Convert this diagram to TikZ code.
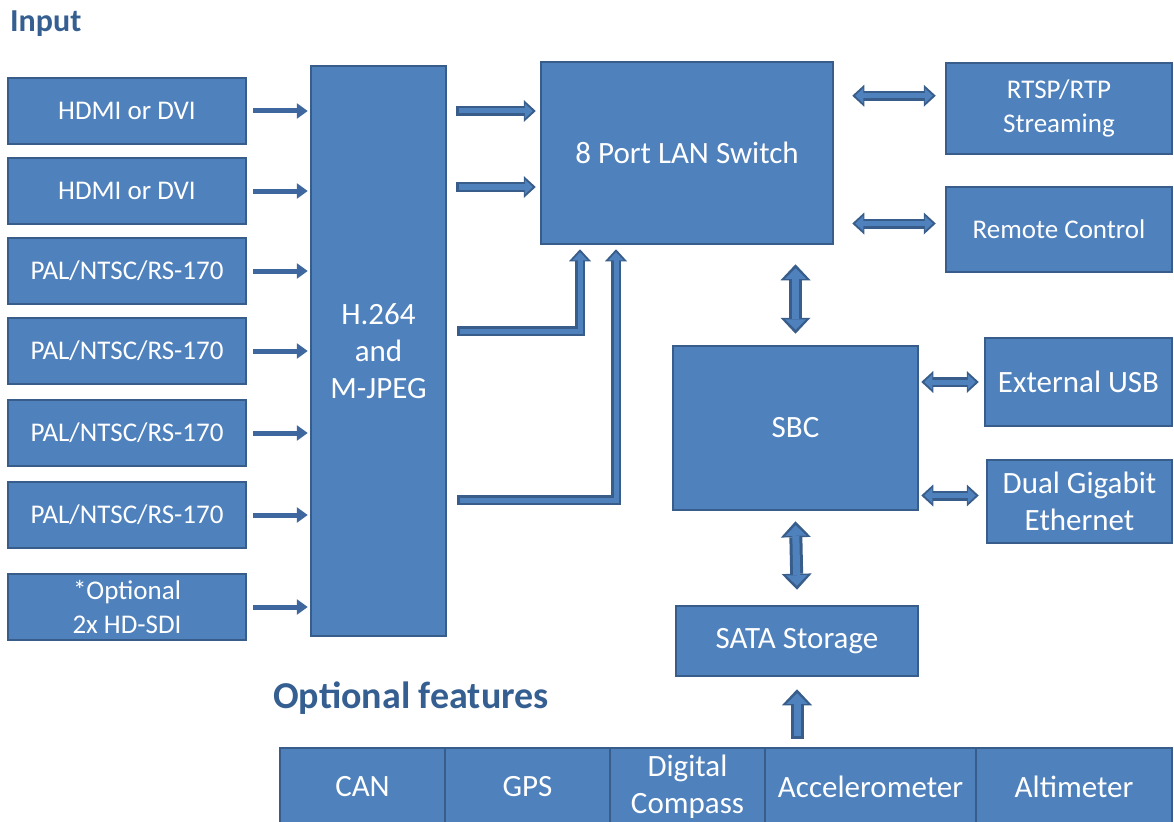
\documentclass[tikz,border=0pt]{standalone}
\usepackage{fontspec}
\setmainfont{Carlito}
\usepackage{tikz}
\usetikzlibrary{arrows.meta, calc, positioning}
\definecolor{boxblue}{RGB}{79,129,189}
\definecolor{edgeblue}{RGB}{56,93,138}
\definecolor{arrowblue}{RGB}{62,103,160}
\definecolor{labelblue}{RGB}{54,95,145}

\tikzset{
	box/.style={draw=edgeblue, fill=boxblue, line width=2.5pt, text=white, align=center, inner sep=0pt},
	boxtxt/.style={font=\fontsize{27}{34}\selectfont},
	bigtxt/.style={font=\fontsize{31}{37}\selectfont},
	heading/.style={text=labelblue, anchor=base west, inner sep=0pt},
	inarrow/.style={draw=arrowblue, line width=5pt, -{Triangle[length=11pt,width=15pt]}, shorten <=6pt, shorten >=2pt},
	pipe/.style={draw=edgeblue, line width=10pt, -{Triangle[length=12pt,width=22pt,line width=0pt]},
		postaction={draw=boxblue, line width=5pt, shorten <=2.5pt, shorten >=3pt, -{Triangle[length=8pt,width=15pt,line width=0pt]}}},
	twopipe/.style={draw=edgeblue, line width=10pt, {Triangle[length=12pt,width=22pt,line width=0pt]}-{Triangle[length=12pt,width=22pt,line width=0pt]},
		postaction={draw=boxblue, line width=5pt, shorten <=3pt, shorten >=3pt, {Triangle[length=8pt,width=15pt,line width=0pt]}-{Triangle[length=8pt,width=15pt,line width=0pt]}}},
	bigpipe/.style={draw=edgeblue, line width=13pt, -{Triangle[length=16pt,width=30pt,line width=0pt]},
		postaction={draw=boxblue, line width=7pt, shorten <=3pt, shorten >=4pt, -{Triangle[length=10.5pt,width=21pt,line width=0pt]}}},
	bigtwopipe/.style={draw=edgeblue, line width=13pt, {Triangle[length=16pt,width=30pt,line width=0pt]}-{Triangle[length=16pt,width=30pt,line width=0pt]},
		postaction={draw=boxblue, line width=7pt, shorten <=4pt, shorten >=4pt, {Triangle[length=10.5pt,width=21pt,line width=0pt]}-{Triangle[length=10.5pt,width=21pt,line width=0pt]}}}
}

\begin{document}
\begin{tikzpicture}[x=1pt, y=-1pt]
	\useasboundingbox (0,0) rectangle (1174,821);
	
	% headings
	\node[heading, font=\bfseries\fontsize{32}{38}\selectfont] (inputlabel) at (10,32) {Input};
	\node[heading, font=\bfseries\fontsize{38}{44}\selectfont] (optlabel) at (273,708) {Optional features};
	
	% input column
	\node[box, boxtxt, minimum width=238pt, minimum height=66pt] (in1) at (127,111) {HDMI or DVI};
	\node[box, boxtxt, minimum width=238pt, minimum height=66pt] (in2) at (127,191) {HDMI or DVI};
	\node[box, boxtxt, minimum width=238pt, minimum height=66pt] (in3) at (127,271) {PAL/NTSC/RS-170};
	\node[box, boxtxt, minimum width=238pt, minimum height=66pt] (in4) at (127,351) {PAL/NTSC/RS-170};
	\node[box, boxtxt, minimum width=238pt, minimum height=66pt] (in5) at (127,433) {PAL/NTSC/RS-170};
	\node[box, boxtxt, minimum width=238pt, minimum height=66pt] (in6) at (127,515) {PAL/NTSC/RS-170};
	\node[box, boxtxt, minimum width=238pt, minimum height=66pt] (in7) at (127,607) {*Optional\\2x HD-SDI};
	
	% encoder, switch, computer
	\node[box, bigtxt, minimum width=135pt, minimum height=570pt] (enc) at (378.5,351) {H.264\\and\\M-JPEG};
	\node[box, bigtxt, minimum width=292pt, minimum height=182pt] (lan) at (687,153) {8 Port LAN Switch};
	\node[box, boxtxt, minimum width=226pt, minimum height=91pt] (rtsp) at (1059,108.5) {RTSP/RTP\\Streaming};
	\node[box, boxtxt, minimum width=226pt, minimum height=85pt] (remote) at (1059,229.5) {Remote Control};
	\node[box, bigtxt, minimum width=245pt, minimum height=164pt] (sbc) at (795.5,428) {SBC};
	\node[box, bigtxt, minimum width=187pt, minimum height=88pt] (usb) at (1078.5,382) {External USB};
	\node[box, bigtxt, minimum width=185pt, minimum height=83pt] (eth) at (1079.5,501.5) {Dual Gigabit\\Ethernet};
	\node[box, bigtxt, minimum width=242pt, minimum height=70pt] (sata) at (797,641) {SATA Storage};
	
	% optional features row
	\node[box, bigtxt, minimum width=165pt, minimum height=77pt] (can) at (362.5,786.5) {CAN};
	\node[box, bigtxt, minimum width=165pt, minimum height=77pt] (gps) at (527.5,786.5) {GPS};
	\node[box, bigtxt, minimum width=155pt, minimum height=77pt] (compass) at (687.5,786.5) {Digital\\Compass};
	\node[box, bigtxt, minimum width=211pt, minimum height=77pt] (accel) at (870.5,786.5) {Accelerometer};
	\node[box, bigtxt, minimum width=196pt, minimum height=77pt] (alt) at (1074,786.5) {Altimeter};
	
	% inputs into encoder
	\foreach \n in {1,...,7}
		\draw[inarrow] (in\n.east) -- (in\n.east -| enc.west);
	
	% encoder to switch
	\draw[pipe] ($(enc.east |- in1)+(9,0)$) -- ($(lan.west |- in1)+(-4,0)$);
	\draw[pipe] ($(enc.east |- in2)+(9,-4)$) -- ($(lan.west |- in2)+(-4,-4)$);
	\draw[pipe] ($(enc.east)+(10,-20)$) -| ($(lan.south)+(-107,4)$);
	\draw[pipe] ($(enc.east)+(10,149)$) -| ($(lan.south)+(-71,4)$);
	
	% switch and computer links
	\draw[twopipe] ($(lan.north east)+(18,35)$) -- ($(lan.north east -| rtsp.west)+(-9,35)$);
	\draw[twopipe] ($(remote.west -| lan.east)+(18,-6)$) -- ($(remote.west)+(-9,-6)$);
	\draw[bigtwopipe] ($(sbc.north |- lan.south)+(0,19)$) -- ($(sbc.north)+(0,-11)$);
	\draw[twopipe] ($(usb.west -| sbc.east)+(2,0)$) -- ($(usb.west)+(-5,0)$);
	\draw[twopipe] ($(eth.west -| sbc.east)+(2,-6)$) -- ($(eth.west)+(-7,-6)$);
	\draw[bigtwopipe] ($(sbc.south)+(0,10)$) -- ($(sata.north)+(0,-15)$);
	\draw[bigpipe] ($(sata.south |- accel.north)+(0,-8)$) -- ($(sata.south)+(0,12)$);
\end{tikzpicture}
\end{document}
